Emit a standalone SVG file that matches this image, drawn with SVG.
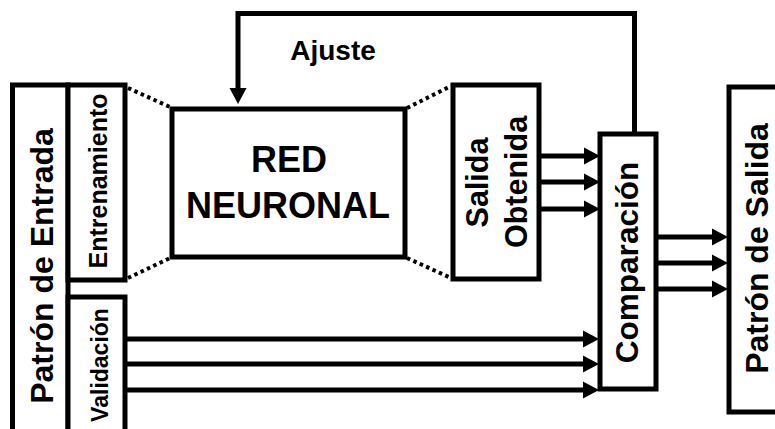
<svg xmlns="http://www.w3.org/2000/svg" width="775" height="429" viewBox="0 0 775 429">
<style>
.box{fill:#fff;stroke:#000;stroke-width:5}
.t{font-family:"Liberation Sans",Arial,sans-serif;font-weight:bold;fill:#000;text-anchor:middle}
.ln{fill:none;stroke:#000;stroke-width:5}
.dot{fill:none;stroke:#000;stroke-width:4;stroke-dasharray:3.5 3.5}
</style>
<defs>
<marker id="ah" markerUnits="userSpaceOnUse" markerWidth="17" markerHeight="18" refX="1" refY="8.5" orient="auto" viewBox="0 0 17 17">
<path d="M0,0 L16,8.5 L0,17 z" fill="#000"/>
</marker>
</defs>
<rect width="775" height="429" fill="#fff"/>
<g id="patron-entrada">
<rect class="box" x="12.5" y="85" width="55.5" height="360"/>
<text class="t" font-size="32" transform="translate(53,266) rotate(-90)">Patrón de Entrada</text>
</g>
<g id="entrenamiento">
<rect class="box" x="68" y="85" width="57" height="195"/>
<text class="t" font-size="25" transform="translate(107,181) rotate(-90)">Entrenamiento</text>
</g>
<g id="validacion">
<rect class="box" x="68" y="297" width="57" height="150"/>
<text class="t" font-size="23" transform="translate(108,365) rotate(-90)">Validación</text>
</g>
<g id="red-neuronal">
<rect class="box" x="172" y="109" width="233" height="148"/>
<text class="t" font-size="36" x="289" y="172">RED</text>
<text class="t" font-size="36" x="288" y="218">NEURONAL</text>
</g>
<g id="salida-obtenida">
<rect class="box" x="453" y="85" width="86" height="194"/>
<text class="t" font-size="30.5" transform="translate(488,182.5) rotate(-90)">Salida</text>
<text class="t" font-size="30.5" transform="translate(527,182) rotate(-90)">Obtenida</text>
</g>
<g id="comparacion">
<rect class="box" x="600" y="134" width="56" height="255"/>
<text class="t" font-size="31.5" transform="translate(638,262.5) rotate(-90)">Comparación</text>
</g>
<g id="patron-salida">
<rect class="box" x="729" y="87" width="60" height="325"/>
<text class="t" font-size="32" transform="translate(768,248.5) rotate(-90)">Patrón de Salida</text>
</g>
<g id="ajuste-label">
<text class="t" font-size="28" x="333" y="60">Ajuste</text>
</g>
<g id="connectors">
<line class="dot" x1="128" y1="88" x2="170" y2="107"/>
<line class="dot" x1="128" y1="278" x2="170" y2="258"/>
<line class="dot" x1="407" y1="108" x2="451" y2="86"/>
<line class="dot" x1="407" y1="258" x2="451" y2="278"/>
<polyline class="ln" points="634.5,132 634.5,13.5 238,13.5 238,89" marker-end="url(#ah)"/>
<line class="ln" x1="539" y1="156" x2="585" y2="156" marker-end="url(#ah)"/>
<line class="ln" x1="539" y1="182" x2="585" y2="182" marker-end="url(#ah)"/>
<line class="ln" x1="539" y1="209" x2="585" y2="209" marker-end="url(#ah)"/>
<line class="ln" x1="656" y1="237" x2="713" y2="237" marker-end="url(#ah)"/>
<line class="ln" x1="656" y1="263" x2="713" y2="263" marker-end="url(#ah)"/>
<line class="ln" x1="656" y1="289" x2="713" y2="289" marker-end="url(#ah)"/>
<line class="ln" x1="125" y1="339" x2="584" y2="339" marker-end="url(#ah)"/>
<line class="ln" x1="125" y1="364" x2="584" y2="364" marker-end="url(#ah)"/>
<line class="ln" x1="125" y1="390" x2="584" y2="390" marker-end="url(#ah)"/>
</g>
</svg>
